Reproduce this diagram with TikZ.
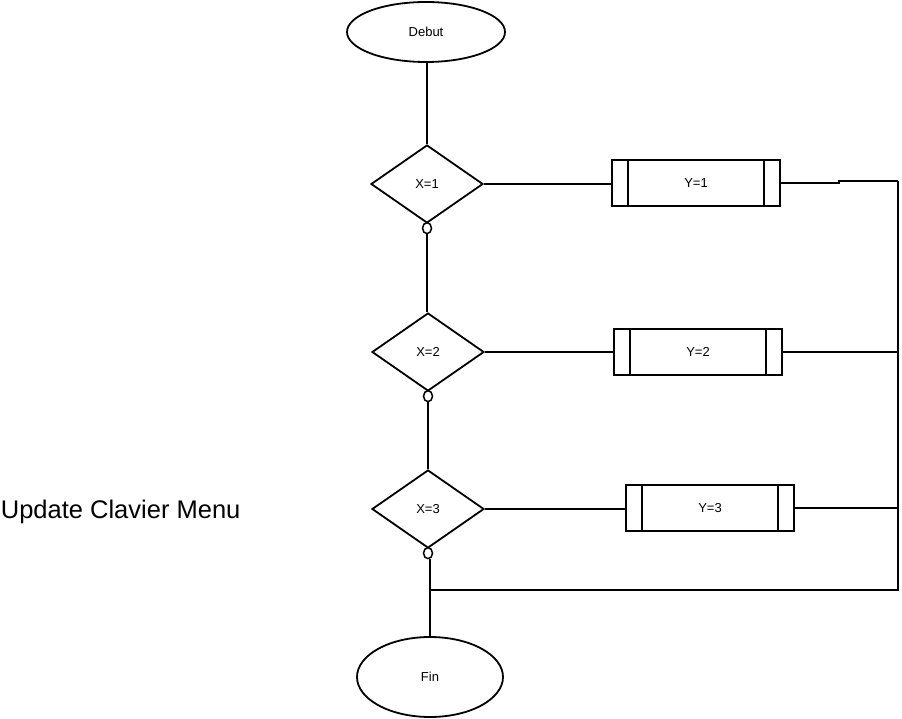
\documentclass[tikz,border=0pt]{standalone}
\usepackage{fontspec}
\setmainfont{Liberation Sans}
\usetikzlibrary{shapes.geometric,positioning}
\tikzset
{
    terminal/.style = {ellipse, draw=black, line width=1.8pt, align=center, font=\fontsize{13}{15}\selectfont},
    decision/.style = {diamond, draw=black, line width=1.8pt, minimum width=112pt, minimum height=78pt, inner sep=0pt, font=\fontsize{13}{15}\selectfont},
    process/.style  = {rectangle, draw=black, line width=1.8pt, minimum width=168pt, minimum height=46pt, font=\fontsize{13}{15}\selectfont},
    joint/.style    = {ellipse, draw=black, line width=1.5pt, minimum width=9pt, minimum height=11pt, inner sep=0pt}
}

\begin{document}
\begin{tikzpicture}
    [x=1pt, y=-1pt, line width=1.8pt]
    \useasboundingbox (0,0) rectangle (902,719);
    \node [anchor=base west, inner sep=0pt, font=\fontsize{25.5}{28}\selectfont] (title) at (0,518) {Update Clavier Menu};
    \node [terminal, minimum width=158pt, minimum height=60pt] (debut) at (426,32) {Debut};
    \node [decision] (x1) at (427,184) {X=1};
    \node [decision] (x2) at (428,352) {X=2};
    \node [decision] (x3) at (428,509) {X=3};
    \node [joint, below=-2pt of x1] (o1) {};
    \node [joint, below=-2pt of x2] (o2) {};
    \node [joint, below=-2pt of x3] (o3) {};
    \node [terminal, minimum width=146pt, minimum height=80pt] (fin) at (430,677) {Fin};
    \node [process] (y1) at (696,183) {Y=1};
    \node [process] (y2) at (698,352) {Y=2};
    \node [process] (y3) at (710,508) {Y=3};
    \coordinate (bustop) at (898,181);
    \coordinate (busbot) at (898,590);
    % inner bars of the boxes
    \foreach \b in {y1,y2,y3}
    {
      \draw ([xshift=17pt]\b.north west) -- ([xshift=17pt]\b.south west);
      \draw ([xshift=-17pt]\b.north east) -- ([xshift=-17pt]\b.south east);
    }
    \draw (debut.south -| x1.north) -- (x1.north);
    \draw (o1.south) -- (o1.south |- x2.north);
    \draw (o2.south) -- (o2.south |- x3.north);
    \draw (fin.north |- o3.south) -- (fin.north);
    \foreach \i in {1,2,3}
      \draw (x\i.east) -- (x\i.east -| y\i.west);
    \draw (y1.east) -- ++(58,0) -- ++(0,-2) -- (bustop);
    \draw (y2.east) -- (y2.east -| bustop);
    \draw (y3.east) -- (y3.east -| bustop);
    \draw (bustop) -- (busbot) -- (busbot -| fin.north);
\end{tikzpicture}
\end{document}
